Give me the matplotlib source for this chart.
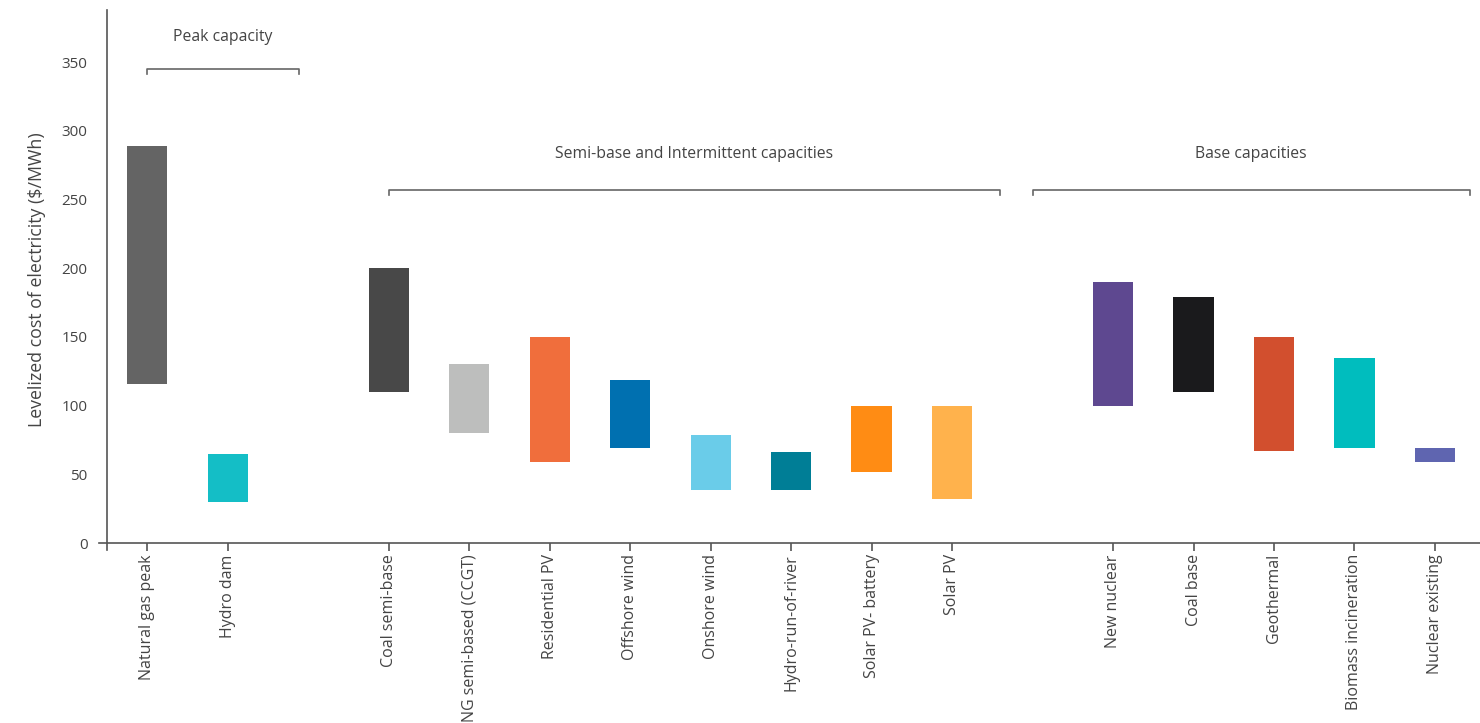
import numpy as np
import matplotlib.pyplot as plt

# Data
categories = ['Natural gas peak', 'Hydro dam',
              'Coal semi-base', 'NG semi-based (CCGT)', 'Residential PV', 'Offshore wind',
              'Onshore wind', 'Hydro-run-of-river', 'Solar PV- battery', 'Solar PV',
              'New nuclear', 'Coal base', 'Geothermal', 'Biomass incineration', 'Nuclear existing']
low  = [116, 30, 110, 80, 59, 69, 39, 39, 52, 32, 100, 110, 67, 69, 59]
high = [289, 65, 200, 130, 150, 119, 79, 66, 100, 100, 190, 179, 150, 135, 69]
positions = [0, 1, 3, 4, 5, 6, 7, 8, 9, 10, 12, 13, 14, 15, 16]
colors = ['#646464', '#14bec6', '#484848', '#bdbebd', '#f06e3c', '#0070b0',
          '#6acce9', '#007e96', '#ff8c14', '#ffb24c', '#5e4890', '#1a1a1c',
          '#d24f2e', '#00bdbe', '#5f65b0']

groups = ['Peak capacity', 'Semi-base and Intermittent capacities', 'Base capacities']
group_span = [(0, 1.88), (3, 10.6), (11.0, 16.43)]
group_line_y = [345, 257, 257]
group_text_y = [368, 283, 283]

plt.rcParams['font.family'] = ['Open Sans', 'DejaVu Sans']
text_color = '#444444'
axis_color = '#555555'

fig = plt.figure(figsize=(14.8, 7.23), dpi=100)
fig.patch.set_facecolor('white')
ax = fig.add_axes([0.0669, 0.2393, 0.9331, 0.747])

ax.bar(positions, np.array(high) - np.array(low), bottom=low, width=0.5, color=colors)

# group brackets
for name, (x0, x1), ly, ty in zip(groups, group_span, group_line_y, group_text_y):
    ax.plot([x0, x0, x1, x1], [ly - 4, ly, ly, ly - 4], color='#666666', lw=1.2,
            clip_on=False)
    ax.text((x0 + x1) / 2, ty, name, ha='center', va='center', fontsize=11.3,
            color=text_color)

ax.set_xlim(-0.6, 16.56)
ax.set_ylim(-5, 388)
ax.spines['left'].set_position(('data', -0.5))
ax.spines['bottom'].set_position(('data', 0))
ax.spines['top'].set_visible(False)
ax.spines['right'].set_visible(False)
for s in ['left', 'bottom']:
    ax.spines[s].set_color(axis_color)
    ax.spines[s].set_linewidth(1.2)

ax.set_yticks([0, 50, 100, 150, 200, 250, 300, 350])
ax.tick_params(axis='y', length=0, pad=14, labelsize=11, labelcolor=text_color)
ax.set_xticks(positions)
ax.set_xticklabels(categories, rotation=90)
ax.tick_params(axis='x', length=6, width=1.2, color=axis_color, direction='out',
               pad=2, labelsize=11.5, labelcolor=text_color)
ax.set_ylabel('Levelized cost of electricity ($/MWh)', fontsize=12.8, color=text_color,
              labelpad=11)

plt.savefig('out.png', dpi=100)
